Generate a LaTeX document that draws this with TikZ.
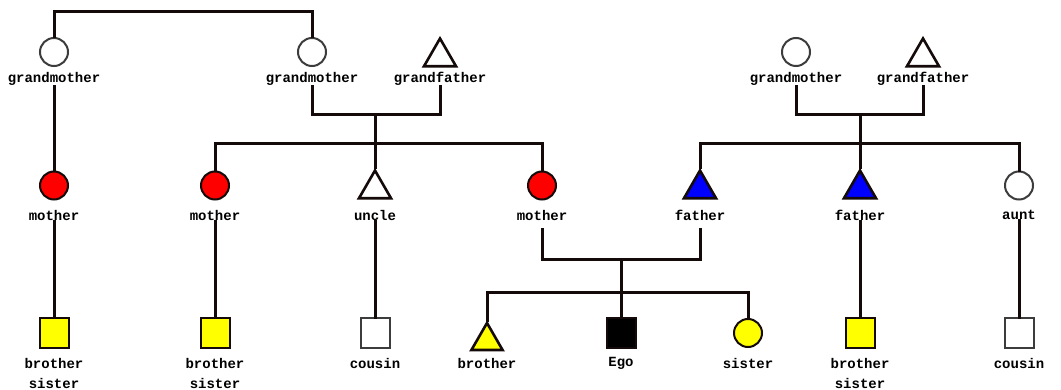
\documentclass[tikz,border=0pt]{standalone}
\usepackage{fontspec}
\setmonofont{Liberation Mono}
\usetikzlibrary{shapes.geometric}
\definecolor{pred}{RGB}{255,0,0}
\definecolor{pblue}{RGB}{0,0,255}
\definecolor{pyel}{RGB}{255,255,0}
\definecolor{edge}{RGB}{20,10,10}
\definecolor{gedge}{RGB}{60,60,60}
\tikzset{
  ln/.style={line width=3pt, edge, line cap=rect},
  fem/.style={circle, minimum size=28pt, inner sep=0pt, draw=gedge, line width=2pt},
  mal/.style={regular polygon, regular polygon sides=3, minimum size=37pt, inner sep=0pt, draw=edge, line width=2.6pt},
  sqr/.style={rectangle, minimum size=29pt, inner sep=0pt, draw=edge, line width=2pt},
  lbl/.style={font=\ttfamily\bfseries\fontsize{14}{20}\selectfont, inner sep=1pt, align=center, text=black}
}
\begin{document}
\begin{tikzpicture}[x=1pt,y=-1pt]
\useasboundingbox[fill=white] (0,0) rectangle (1061,390);
% row 1
\node[fem, fill=white] (gmA) at (54,52) {};
\node[lbl] (gmAl) at (54,79) {grandmother};
\node[fem, fill=white] (gmB) at (312,52) {};
\node[lbl] (gmBl) at (312,79) {grandmother};
\node[mal, fill=white] (gfB) at (440,57) {};
\node[lbl] (gfBl) at (440,79) {grandfather};
\node[fem, fill=white] (gmC) at (796,52) {};
\node[lbl] (gmCl) at (796,79) {grandmother};
\node[mal, fill=white] (gfC) at (923,57) {};
\node[lbl] (gfCl) at (923,79) {grandfather};
% row 2
\node[fem, fill=pred, draw=edge] (mA) at (54,185.5) {};
\node[lbl] (mAl) at (54,215) {mother};
\node[fem, fill=pred, draw=edge] (mB) at (215,185.5) {};
\node[lbl] (mBl) at (215,215) {mother};
\node[mal, fill=white] (un) at (375,189) {};
\node[lbl] (unl) at (375,215) {uncle};
\node[fem, fill=pred, draw=edge] (mC) at (542,185.5) {};
\node[lbl] (mCl) at (542,215) {mother};
\node[mal, fill=pblue] (fA) at (700,189) {};
\node[lbl] (fAl) at (700,215) {father};
\node[mal, fill=pblue] (fB) at (860,189) {};
\node[lbl] (fBl) at (860,215) {father};
\node[fem, fill=white] (au) at (1019,185.5) {};
\node[lbl] (aul) at (1019,215) {aunt};
% row 3
\node[sqr, fill=pyel] (cA) at (54,333) {};
\node[lbl] (cAl) at (54,373) {brother\\sister};
\node[sqr, fill=pyel] (cB) at (215,333) {};
\node[lbl] (cBl) at (215,373) {brother\\sister};
\node[sqr, fill=white, draw=gedge] (cu) at (375,333) {};
\node[lbl] (cul) at (375,363) {cousin};
\node[mal, fill=pyel, minimum size=36pt] (br) at (487,341) {};
\node[lbl] (brl) at (487,363) {brother};
\node[sqr, fill=black] (ego) at (621,333) {};
\node[lbl] (egol) at (621,363) {Ego};
\node[fem, fill=pyel, draw=edge] (si) at (748,333) {};
\node[lbl] (sil) at (748,363) {sister};
\node[sqr, fill=pyel] (cC) at (860,333) {};
\node[lbl] (cCl) at (860,373) {brother\\sister};
\node[sqr, fill=white, draw=gedge] (cv) at (1019,333) {};
\node[lbl] (cvl) at (1019,363) {cousin};
% coordinates
\coordinate (top) at (180,12);
\coordinate (jB) at (375,115);
\coordinate (sB) at (375,144);
\coordinate (jC) at (860,115);
\coordinate (sC) at (860,144);
\coordinate (jE) at (621,260);
\coordinate (sE) at (621,293);
% connectors
\draw[ln] (gmA.north) |- (top) -| (gmB.north);
\draw[ln] (gmAl) -- (mA);
\draw[ln] (gmBl.south) |- (jB) -| (gfBl.south);
\draw[ln] (mB.north) |- (sB) -| (mC.north);
\draw[ln] (jB) -- (un.north);
\draw[ln] (gmCl.south) |- (jC) -| (gfCl.south);
\draw[ln] (fA.north) |- (sC) -| (au.north);
\draw[ln] (jC) -- (fB.north);
\draw[ln] (mAl) -- (cA);
\draw[ln] (mBl) -- (cB);
\draw[ln] (unl) -- (cu);
\draw[ln] (fBl) -- (cC);
\draw[ln] (aul) -- (cv);
\draw[ln] ([yshift=-8pt]mCl.south) |- (jE) -| ([yshift=-8pt]fAl.south);
\draw[ln] (br.north) |- (sE) -| (si.north);
\draw[ln] (jE) -- (ego.north);
\end{tikzpicture}
\end{document}
